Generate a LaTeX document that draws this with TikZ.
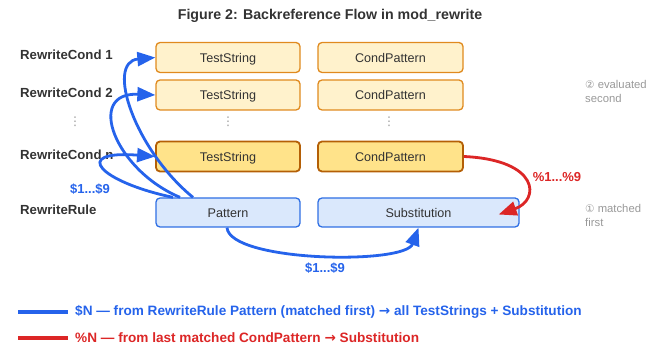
\documentclass[tikz,border=0pt]{standalone}
\usepackage{fontspec}
\setmainfont{Liberation Sans}
\newfontfamily\dejavu{DejaVu Sans}
\usetikzlibrary{arrows.meta}
\definecolor{txt}{HTML}{333333}
\definecolor{note}{HTML}{999999}
\definecolor{yfill}{HTML}{FFF2CC}
\definecolor{ydraw}{HTML}{E08A1E}
\definecolor{yfillD}{HTML}{FFE38A}
\definecolor{ydrawD}{HTML}{B45F06}
\definecolor{bfill}{HTML}{DAE8FC}
\definecolor{bdraw}{HTML}{2F6FE4}
\definecolor{barrow}{HTML}{2563EB}
\definecolor{rarrow}{HTML}{DC2626}
\begin{document}
\begin{tikzpicture}[x=1pt,y=-1pt,
  box/.style={rounded corners=4pt, line width=1.3pt, minimum height=30pt, inner sep=0pt, font=\fontsize{12.6}{14}\selectfont, text=txt, text height=11pt, text depth=1pt},
  ybox/.style={box, fill=yfill, draw=ydraw, minimum width=144pt},
  ydark/.style={box, fill=yfillD, draw=ydrawD, line width=1.8pt, minimum width=144pt},
  bbox/.style={box, fill=bfill, draw=bdraw},
  rowlab/.style={anchor=west, font=\fontsize{13.2}{15}\selectfont\bfseries, text=txt, inner sep=0pt},
  notetxt/.style={anchor=west, align=left, font=\fontsize{11.3}{14}\selectfont, text=note, inner sep=0pt},
  dotsn/.style={text=note, font=\dejavu\fontsize{12}{12}\selectfont, inner sep=0pt},
  blink/.style={draw=barrow, line width=2.8pt, -{Triangle[length=18pt,width=14pt]}},
  rlink/.style={draw=rarrow, line width=2.8pt, -{Triangle[length=18pt,width=14pt]}},
  blab/.style={text=barrow, font=\fontsize{13}{15}\selectfont\bfseries, inner sep=0pt},
  rlab/.style={text=rarrow, font=\fontsize{13}{15}\selectfont\bfseries, inner sep=0pt},
  legtxt/.style={anchor=west, font=\fontsize{13.6}{15}\selectfont\bfseries, inner sep=0pt}
]
\useasboundingbox (0,0) rectangle (650,363);

\node[font=\fontsize{14.2}{16}\selectfont\bfseries, text=txt] (title) at (330,16) {Figure 2: Backreference Flow in mod\_rewrite};

% row labels
\node[rowlab] (l1) at (20,55) {RewriteCond 1};
\node[rowlab] (l2) at (20,93) {RewriteCond 2};
\node[dotsn] (ld) at (75,122) {⋮};
\node[rowlab] (ln) at (20,155) {RewriteCond n};
\node[rowlab] (lr) at (20,210) {RewriteRule};

% boxes
\node[ybox] (ts1) at (228,57.5) {TestString};
\node[ybox] (ts2) at (228,95) {TestString};
\node[dotsn] (tsd) at (228,122) {⋮};
\node[ydark] (tsn) at (228,156.5) {TestString};
\node[bbox, minimum width=144pt, minimum height=29pt] (pat) at (228,212.5) {Pattern};

\node[ybox, minimum width=145pt] (cp1) at (390.5,57.5) {CondPattern};
\node[ybox, minimum width=145pt] (cp2) at (390.5,95) {CondPattern};
\node[dotsn] (cpd) at (389,122) {⋮};
\node[ydark, minimum width=145pt] (cpn) at (390.5,156.5) {CondPattern};
\node[bbox, minimum width=201pt, minimum height=29pt] (sub) at (418.5,212.5) {Substitution};

% notes
\node[notetxt] (n2) at (585,91) {{\dejavu\fontsize{10.5}{14}\selectfont ②} evaluated\\second};
\node[notetxt] (n1) at (585,215) {{\dejavu\fontsize{10.5}{14}\selectfont ①} matched\\first};

% blue arrows
\coordinate (p1) at ([xshift=-35pt]pat.north);
\coordinate (p2) at ([xshift=-48pt]pat.north);
\coordinate (p3) at ([xshift=-55pt]pat.north);
\draw[blink] (p1) .. controls (135,150) and (105,62) .. (ts1.west);
\draw[blink] (p2) .. controls (115,170) and (85,92) .. (ts2.west);
\draw[blink] (p3) .. controls (100,182) and (70,150) .. (tsn.west);
\node[blab] (lab1) at (90,189) {\$1...\$9};

\coordinate (pb) at ([xshift=-1pt]pat.south);
\draw[blink] (pb) .. controls (230,262) and (405,265) .. (sub.south);
\node[blab] (lab2) at (325,268) {\$1...\$9};

% red arrow
\coordinate (se) at ([xshift=-21pt,yshift=-2pt]sub.east);
\draw[rlink] (cpn.east) .. controls (540,160) and (540,200) .. (se);
\node[rlab] (lab3) at (557,177) {\%1...\%9};

% legend
\coordinate (lb0) at (18,312);
\coordinate (lb1) at (68,312);
\draw[draw=barrow, line width=4.5pt] (lb0) -- (lb1);
\node[legtxt, text=barrow] (leg1) at (75,312) {\$N — from RewriteRule Pattern (matched first) {\dejavu\bfseries →} all TestStrings + Substitution};
\coordinate (lr0) at (18,338);
\coordinate (lr1) at (68,338);
\draw[draw=rarrow, line width=4.5pt] (lr0) -- (lr1);
\node[legtxt, text=rarrow] (leg2) at (75,338) {\%N — from last matched CondPattern {\dejavu\bfseries →} Substitution};
\end{tikzpicture}
\end{document}
